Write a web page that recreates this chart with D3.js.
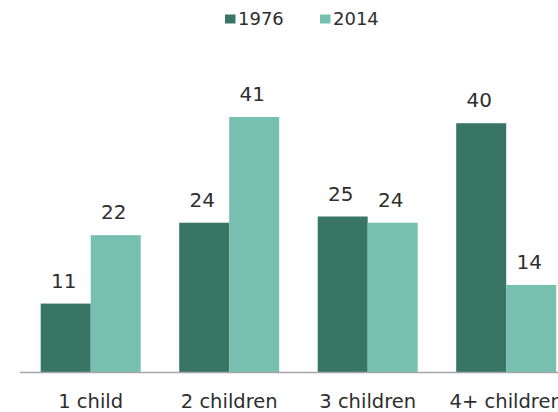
<!DOCTYPE html>
<html>
<head>
<meta charset="utf-8">
<script src="https://cdn.jsdelivr.net/npm/d3@7"></script>
<style>
  html, body { margin: 0; padding: 0; background: #fff; }
  svg { display: block; }
  text { font-family: "DejaVu Sans", "Liberation Sans", sans-serif; fill: #2e2e2e; }
</style>
</head>
<body>
<svg id="chart" width="558" height="412"></svg>
<script>
const categories = ["1 child", "2 children", "3 children", "4+ children"];
const seriesNames = ["1976", "2014"];
const values1976 = [11, 24, 25, 40];
const values2014 = [22, 41, 24, 14];
const colors = ["#387565", "#77bfae"];

const W = 558, H = 412;
const svg = d3.select("#chart");

const baseY = 372;
const y = d3.scaleLinear().domain([0, 41]).range([baseY, 117]);

const x = d3.scaleBand().domain(categories).range([21.45, 575.45]).paddingInner(0.278).paddingOuter(0.139);
const xs = d3.scaleBand().domain(seriesNames).range([0, x.bandwidth()]);

const seriesData = [values1976, values2014];

const groups = svg.append("g").selectAll("g")
  .data(categories)
  .join("g")
  .attr("transform", d => `translate(${x(d)},0)`);

groups.selectAll("rect")
  .data((c, i) => seriesNames.map((s, j) => ({ s, v: seriesData[j][i], j })))
  .join("rect")
  .attr("x", d => xs(d.s))
  .attr("y", d => y(d.v))
  .attr("width", xs.bandwidth())
  .attr("height", d => baseY - y(d.v))
  .attr("fill", d => colors[d.j]);

groups.selectAll("text.val")
  .data((c, i) => seriesNames.map((s, j) => ({ s, v: seriesData[j][i], j })))
  .join("text")
  .attr("class", "val")
  .attr("x", d => xs(d.s) + xs.bandwidth() / 2 - 2)
  .attr("y", d => y(d.v) - 16)
  .attr("text-anchor", "middle")
  .style("font-size", "20px")
  .text(d => d.v);

// baseline axis
const xAxis = d3.axisBottom(x).tickSize(0).tickPadding(22);
const ax = svg.append("g").attr("transform", `translate(0,${baseY})`).call(xAxis);
ax.select(".domain").remove();
ax.selectAll("text").style("font-size", "19.5px").attr("fill", "#2e2e2e").attr("font-family", null);
svg.append("line").attr("x1", 20).attr("x2", W).attr("y1", baseY + 0.5).attr("y2", baseY + 0.5)
  .attr("stroke", "#a6a6a6").attr("stroke-width", 1.5);

// legend
const legend = svg.append("g");
const legendX = [225, 320];
seriesNames.forEach((s, j) => {
  const g = legend.append("g").attr("transform", `translate(${legendX[j]},0)`);
  g.append("rect").attr("x", 0).attr("y", 14.5).attr("width", 10.5).attr("height", 9).attr("fill", colors[j]);
  g.append("text").attr("x", 13).attr("y", 24.5).style("font-size", "18px").text(s);
});
</script>
</body>
</html>
